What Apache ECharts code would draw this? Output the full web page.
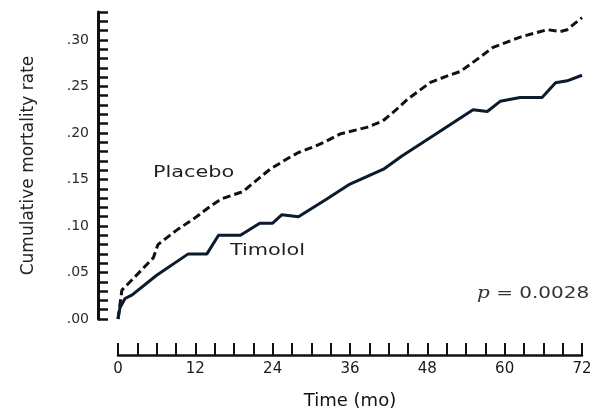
<!DOCTYPE html>
<html><head><meta charset="utf-8">
<script src="https://cdn.jsdelivr.net/npm/echarts@6/dist/echarts.min.js"></script>
<style>html,body{margin:0;padding:0;background:#fff}#c{width:609px;height:415px}</style>
</head><body><div id="c"></div>
<script>
const placeboMonths = [0, 0.3, 0.6, 3, 5.5, 6.2, 9, 12, 14.3, 16, 19.4, 22, 23.6, 26.2, 28, 30.3, 32, 34.5, 38.6, 41.1, 43, 44.9, 48.4, 51, 53.1, 55.5, 58.2, 62.4, 66.6, 68.6, 69.7, 72];
const placeboRate = [0, 0.015, 0.031, 0.048, 0.066, 0.080, 0.095, 0.109, 0.121, 0.129, 0.137, 0.152, 0.161, 0.172, 0.179, 0.185, 0.190, 0.199, 0.206, 0.213, 0.224, 0.236, 0.254, 0.261, 0.266, 0.278, 0.292, 0.303, 0.311, 0.309, 0.311, 0.324];
const timololMonths = [0, 0.3, 1.1, 2.2, 6, 10.9, 13.8, 15.6, 19, 22, 24, 25.4, 28, 32.4, 36, 41.2, 44, 48.9, 52, 55.1, 57.3, 59.3, 62.4, 65.8, 67.9, 69.7, 72];
const timololRate = [0, 0.012, 0.022, 0.026, 0.047, 0.070, 0.070, 0.090, 0.090, 0.103, 0.103, 0.112, 0.110, 0.129, 0.145, 0.161, 0.175, 0.197, 0.211, 0.225, 0.223, 0.234, 0.238, 0.238, 0.254, 0.256, 0.262];
const xTickLabels = [0, 12, 24, 36, 48, 60, 72];
const yTickLabels = [0, 0.05, 0.10, 0.15, 0.20, 0.25, 0.30];
const seriesNames = ['Placebo', 'Timolol'];

const chart = echarts.init(document.getElementById('c'), null, {renderer: 'canvas'});
const font = 'DejaVu Sans';
const zip = (a, b) => a.map((v, i) => [v, b[i]]);
chart.setOption({
  animation: false,
  backgroundColor: '#fff',
  grid: {left: 118, right: 27, top: 12, bottom: 94},
  xAxis: {
    type: 'value', min: 0, max: 72, interval: 3, offset: 36, position: 'bottom',
    splitLine: {show: false},
    axisLine: {show: true, onZero: false, lineStyle: {color: '#111', width: 2.5}},
    axisTick: {show: true, inside: true, length: 12, lineStyle: {color: '#111', width: 2}},
    axisLabel: {
      margin: 7, color: '#1a1a1a', fontFamily: font, fontSize: 15,
      formatter: v => xTickLabels.indexOf(Math.round(v)) >= 0 && Math.abs(v - Math.round(v)) < 1e-6 ? String(Math.round(v)) : ''
    },
    name: 'Time (mo)', nameLocation: 'middle', nameGap: 37,
    nameTextStyle: {color: '#111', fontFamily: font, fontSize: 18}
  },
  yAxis: {
    type: 'value', min: 0, max: 0.33, interval: 0.01, offset: 20, position: 'left',
    splitLine: {show: false},
    axisLine: {show: true, onZero: false, lineStyle: {color: '#111', width: 3}},
    axisTick: {show: true, inside: true, length: 10, lineStyle: {color: '#111', width: 2.5}},
    axisLabel: {
      margin: 9, color: '#2a2a2a', fontFamily: font, fontSize: 14,
      formatter: v => {
        const k = Math.round(v * 100);
        const hit = yTickLabels.some(t => Math.round(t * 100) === k);
        return hit ? (k / 100).toFixed(2).replace(/^0/, '') : '';
      }
    },
    name: 'Cumulative mortality rate', nameLocation: 'middle', nameGap: 61,
    nameTextStyle: {color: '#222', fontFamily: font, fontSize: 17}
  },
  series: [
    {name: seriesNames[0], type: 'line', data: zip(placeboMonths, placeboRate), showSymbol: false,
     lineStyle: {color: '#111', width: 3, type: [8, 4]}},
    {name: seriesNames[1], type: 'line', data: zip(timololMonths, timololRate), showSymbol: false,
     lineStyle: {color: '#0b1a2c', width: 3}}
  ],
  graphic: [
    {type: 'text', left: 153, top: 165, scaleX: 1.3, style: {text: seriesNames[0], fill: '#1f1f1f', font: '16px "DejaVu Sans"'}},
    {type: 'text', left: 230, top: 243, scaleX: 1.3, style: {text: seriesNames[1], fill: '#1f1f1f', font: '16px "DejaVu Sans"'}},
    {type: 'text', left: 477, top: 286, scaleX: 1.25, style: {
      text: '{i|p} = 0.0028', fill: '#333', font: '16px "DejaVu Sans"',
      rich: {i: {fontStyle: 'italic', fontFamily: 'DejaVu Serif', fontSize: 16, fill: '#333'}}
    }}
  ]
});
</script></body></html>
